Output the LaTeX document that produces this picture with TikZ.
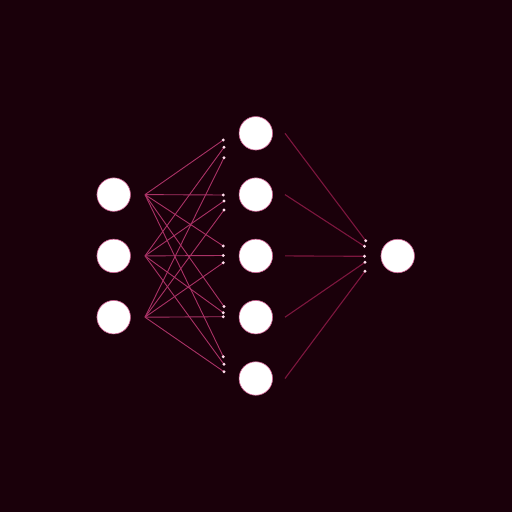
\documentclass[tikz,border=0pt]{standalone}
\usetikzlibrary{calc}
\definecolor{bg}{RGB}{26,0,10}
\definecolor{edgec}{RGB}{170,50,102}
\definecolor{edgeo}{RGB}{125,22,62}
\definecolor{rim}{RGB}{205,95,145}
\definecolor{tipc}{RGB}{255,220,235}
\begin{document}
\begin{tikzpicture}[x=1pt,y=-1pt,
  neuron/.style={circle,fill=white,draw=rim,line width=0.6pt,minimum size=33.5pt,inner sep=0pt},
  conn/.style={draw=edgec,line width=0.9pt},
  connout/.style={draw=edgeo,line width=1.1pt},
  tipdot/.style={fill=tipc}]
\fill[bg] (0,0) rectangle (512,512);
\useasboundingbox (0,0) rectangle (512,512);
% nodes
\node[neuron] (i1) at (113.7,194.6) {};
\node[neuron] (i2) at (113.7,255.9) {};
\node[neuron] (i3) at (113.7,317.2) {};
\node[neuron] (h1) at (255.8,133.3) {};
\node[neuron] (h2) at (255.8,194.6) {};
\node[neuron] (h3) at (255.8,255.9) {};
\node[neuron] (h4) at (255.8,317.2) {};
\node[neuron] (h5) at (255.8,378.5) {};
\node[neuron] (o) at (397.7,256.0) {};
% start points of connectors
\foreach \k in {1,2,3} {\coordinate (a\k) at ($(i\k)+(31.3,0)$);}
\foreach \k in {1,...,5} {\coordinate (b\k) at ($(h\k)+(29.2,0)$);}
% end points (input -> hidden)
\coordinate (e11) at (223.3,140.0);
\coordinate (e12) at (224.0,147.3);
\coordinate (e13) at (224.0,157.7);
\coordinate (e21) at (223.3,195.0);
\coordinate (e22) at (224.0,201.0);
\coordinate (e23) at (224.0,210.0);
\coordinate (e31) at (223.3,246.0);
\coordinate (e32) at (223.3,255.5);
\coordinate (e33) at (223.3,262.7);
\coordinate (e41) at (224.0,306.5);
\coordinate (e42) at (223.3,312.7);
\coordinate (e43) at (223.3,316.7);
\coordinate (e51) at (223.3,356.7);
\coordinate (e52) at (224.0,364.3);
\coordinate (e53) at (224.0,371.7);
% end points (hidden -> output)
\coordinate (f1) at (365.7,240.7);
\coordinate (f2) at (364.5,246.3);
\coordinate (f3) at (364.5,256.3);
\coordinate (f4) at (365.0,262.3);
\coordinate (f5) at (365.0,271.3);
% connectors
\foreach \j in {1,...,5} {
  \foreach \i in {1,2,3} {
    \draw[conn] (a\i) -- (e\j\i);
  }
  \draw[connout] (b\j) -- (f\j);
}
% tip dots
\foreach \j in {1,...,5} {
  \foreach \i in {1,2,3} {
    \fill[tipdot] (e\j\i) circle (1.6pt);
  }
  \fill[tipdot] (f\j) circle (1.6pt);
}
\end{tikzpicture}
\end{document}
